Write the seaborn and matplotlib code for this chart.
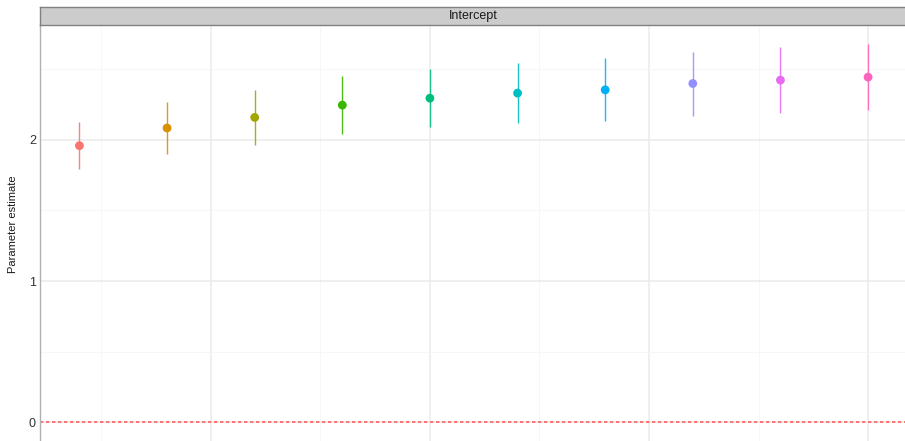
import matplotlib
matplotlib.use("Agg")
import matplotlib.pyplot as plt
import seaborn as sns
import pandas as pd
import numpy as np

# ---- data ----
models = [1, 2, 3, 4, 5, 6, 7, 8, 9, 10]
estimate = [1.958, 2.083, 2.158, 2.245, 2.294, 2.330, 2.353, 2.398, 2.422, 2.443]
lower = [1.795, 1.896, 1.962, 2.040, 2.087, 2.118, 2.134, 2.170, 2.189, 2.207]
upper = [2.125, 2.268, 2.353, 2.452, 2.502, 2.542, 2.577, 2.624, 2.655, 2.678]
colors = ["#F8766D", "#D89000", "#A3A500", "#39B600", "#00BF7D",
          "#00BFC4", "#00B0F6", "#9590FF", "#E76BF3", "#FF62BC"]
strip_label = "Intercept"
y_label = "Parameter estimate"
y_ticks = [0, 1, 2]

df = pd.DataFrame({"model": models, "estimate": estimate,
                   "lower": lower, "upper": upper})
df["group"] = df["model"].astype(str)

sns.set_theme(style="white")
plt.rcParams["font.family"] = ["Liberation Sans", "DejaVu Sans"]

W, H = 905, 441
fig = plt.figure(figsize=(W / 100, H / 100), dpi=100)

# panel in pixel coordinates
left, right, top, bottom = 40, 907.5, 25, 441.3
ax = fig.add_axes([left / W, 1 - bottom / H, (right - left) / W, (bottom - top) / H])

# limits with ggplot-like 5% expansion
ymin_d, ymax_d = min(0, min(lower)), max(upper)
yr = ymax_d - ymin_d
ax.set_ylim(ymin_d - 0.05 * yr, ymax_d + 0.05 * yr)
xr = max(models) - min(models)
ax.set_xlim(min(models) - 0.05 * xr, max(models) + 0.05 * xr)

# grid
ax.set_xticks([2.5, 5, 7.5, 10])
ax.set_xticks([1.25, 3.75, 6.25, 8.75], minor=True)
ax.set_yticks(y_ticks)
ax.set_yticks([0.5, 1.5, 2.5], minor=True)
ax.grid(True, which="major", color="#EBEBEB", linewidth=1.1)
ax.grid(True, which="minor", color="#F6F6F6", linewidth=0.6)
ax.set_axisbelow(True)

# reference line
ax.axhline(0, color="#FF3030", alpha=0.75, linewidth=1.2, linestyle=(0, (2, 1.6)), zorder=1)

# error bars
for i, row in df.iterrows():
    ax.vlines(row["model"], row["lower"], row["upper"], color=colors[i],
              alpha=0.9, linewidth=1.0, zorder=2)

sns.scatterplot(data=df, x="model", y="estimate", hue="group",
                palette=colors, s=40, linewidth=0, legend=False, ax=ax, zorder=3)

ax.set_xlabel("")
ax.set_ylabel("")
ax.set_xticklabels([])
ax.tick_params(axis="y", length=0, labelsize=9, labelcolor="#333333", pad=3)
ax.tick_params(axis="x", length=0)
for s in ["top", "right", "bottom"]:
    ax.spines[s].set_visible(False)
ax.spines["left"].set_color("#B0B0B0")
ax.spines["left"].set_linewidth(1.0)

fig.text(12.5 / W, 1 - 224 / H, y_label, rotation=90, ha="center", va="center",
         fontsize=8, color="#1A1A1A")

# facet strip
s_top, s_bot = 7.3, 24.5
sax = fig.add_axes([left / W, 1 - s_bot / H, (right - left) / W, (s_bot - s_top) / H])
sax.set_facecolor("#CCCCCC")
sax.set_xticks([])
sax.set_yticks([])
for s in sax.spines.values():
    s.set_color("#808080")
    s.set_linewidth(1.0)
sax.text(0.5, 0.5, strip_label, ha="center", va="center", fontsize=9,
         color="#1A1A1A", transform=sax.transAxes)

fig.savefig("out.png", dpi=100)
